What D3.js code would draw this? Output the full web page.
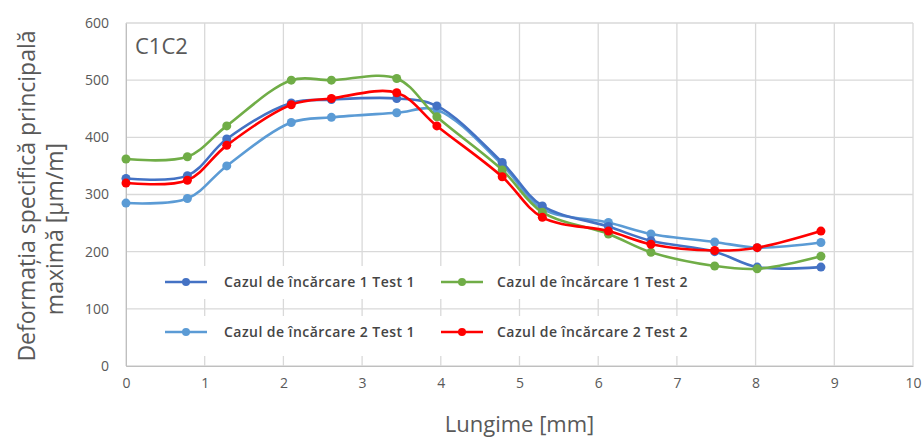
<!DOCTYPE html>
<html>
<head>
<meta charset="utf-8">
<script src="https://cdn.jsdelivr.net/npm/d3@7"></script>
<style>
  body { margin: 0; background: #fff; }
  svg { display: block; }
</style>
</head>
<body>
<div id="chart"></div>
<script>
// chart size
const width = 924;
const height = 437;
const margin = {top: 23, right: 11, bottom: 71, left: 126};

///
/// DATA
///

const lungime = [0, 0.78, 1.28, 2.1, 2.61, 3.44, 3.95, 4.78, 5.29, 6.13, 6.67, 7.48, 8.02, 8.83];
const caz1Test1 = [328, 333, 397, 460, 466, 468, 455, 356, 280, 244, 219, 200, 173, 173];
const caz1Test2 = [362, 366, 420, 500, 500, 503, 436, 343, 269, 231, 199, 175, 170, 192];
const caz2Test1 = [285, 293, 350, 426, 435, 443, 448, 352, 275, 251, 231, 217, 207, 216];
const caz2Test2 = [320, 325, 386, 457, 468, 478, 420, 331, 260, 236, 213, 202, 207, 236];
const seriesNames = ['Cazul de încărcare 1 Test 1', 'Cazul de încărcare 1 Test 2',
                     'Cazul de încărcare 2 Test 1', 'Cazul de încărcare 2 Test 2'];
const xTicks = [0, 1, 2, 3, 4, 5, 6, 7, 8, 9, 10];
const yTicks = [0, 100, 200, 300, 400, 500, 600];

const colors = ['#4472c4', '#70ad47', '#5b9bd5', '#ff0000'];
const allValues = [caz1Test1, caz1Test2, caz2Test1, caz2Test2];

const series = seriesNames.map((name, i) => ({
    name: name,
    color: colors[i],
    values: lungime.map((x, j) => ({x: x, y: allValues[i][j]}))
}));

///
/// SCALES
///

const x = d3.scaleLinear()
    .domain([0, 10])
    .range([margin.left, width - margin.right]);

const y = d3.scaleLinear()
    .domain([0, 600])
    .range([height - margin.bottom, margin.top]);

const svg = d3.select("#chart")
    .append("svg")
    .attr("width", width)
    .attr("height", height)
    .attr("font-family", "'Open Sans', sans-serif");

// gridlines
svg.append("g")
    .attr("class", "grid-x")
    .selectAll("line")
    .data(xTicks)
    .join("line")
    .attr("x1", d => x(d)).attr("x2", d => x(d))
    .attr("y1", y(0)).attr("y2", y(600))
    .attr("stroke", "#d9d9d9")
    .attr("stroke-width", 1.3);

svg.append("g")
    .attr("class", "grid-y")
    .selectAll("line")
    .data(yTicks)
    .join("line")
    .attr("x1", x(0)).attr("x2", x(10))
    .attr("y1", d => y(d)).attr("y2", d => y(d))
    .attr("stroke", "#d9d9d9")
    .attr("stroke-width", 1.3);

// axes (labels only, lines come from the grid)
const xAxis = svg.append("g")
    .attr("transform", `translate(0, ${y(0)})`)
    .call(d3.axisBottom(x).tickValues(xTicks).tickSize(0).tickPadding(12));
xAxis.select(".domain").attr("stroke", "#bfbfbf");
xAxis.selectAll("text")
    .attr("font-size", 14)
    .attr("font-family", "'Open Sans', sans-serif")
    .attr("fill", "#595959");

const yAxis = svg.append("g")
    .attr("transform", `translate(${x(0)}, 0)`)
    .call(d3.axisLeft(y).tickValues(yTicks).tickSize(0).tickPadding(17));
yAxis.select(".domain").attr("stroke", "#bfbfbf");
yAxis.selectAll("text")
    .attr("font-size", 14)
    .attr("font-family", "'Open Sans', sans-serif")
    .attr("fill", "#595959");

///
/// LEGEND BACKGROUND (sits over the grid)
///

const legendRows = [282, 332];
svg.append("g")
    .selectAll("rect")
    .data(legendRows)
    .join("rect")
    .attr("x", 160)
    .attr("y", d => d - 16)
    .attr("width", 542)
    .attr("height", (d, i) => i == 0 ? 33 : 40)
    .attr("fill", "#fff");

///
/// LINES
///

const line = d3.line()
    .x(d => x(d.x))
    .y(d => y(d.y))
    .curve(d3.curveCatmullRom.alpha(0.5));

// draw order: light blue under dark blue
const drawOrder = [2, 0, 1, 3];

const seriesG = svg.append("g")
    .selectAll("g")
    .data(drawOrder.map(i => series[i]))
    .join("g");

seriesG.append("path")
    .attr("d", d => line(d.values))
    .attr("fill", "none")
    .attr("stroke", d => d.color)
    .attr("stroke-width", 2.6)
    .attr("stroke-linejoin", "round");

seriesG.selectAll("circle")
    .data(d => d.values.map(v => ({...v, color: d.color})))
    .join("circle")
    .attr("cx", d => x(d.x))
    .attr("cy", d => y(d.y))
    .attr("r", 4.5)
    .attr("fill", d => d.color);

///
/// LEGEND
///

const legendX = [165, 441];
const legend = svg.append("g")
    .selectAll("g")
    .data(series)
    .join("g")
    .attr("transform", (d, i) => `translate(${legendX[i % 2]}, ${legendRows[Math.floor(i / 2)]})`);

legend.append("line")
    .attr("x1", 0).attr("x2", 42)
    .attr("stroke", d => d.color)
    .attr("stroke-width", 2.6);

legend.append("circle")
    .attr("cx", 21)
    .attr("r", 4)
    .attr("fill", d => d.color);

legend.append("text")
    .attr("x", (d, i) => i % 2 == 0 ? 59 : 56)
    .attr("dy", "0.35em")
    .attr("font-size", 14)
    .attr("font-weight", 600)
    .attr("letter-spacing", 0.45)
    .attr("fill", "#454545")
    .text(d => d.name);

///
/// TITLES
///

svg.append("text")
    .attr("x", 135)
    .attr("y", 54)
    .attr("font-size", 22)
    .attr("fill", "#595959")
    .text("C1C2");

svg.append("text")
    .attr("x", (x(0) + x(10)) / 2)
    .attr("y", 432)
    .attr("text-anchor", "middle")
    .attr("font-size", 22)
    .attr("fill", "#595959")
    .text("Lungime [mm]");

svg.append("text")
    .attr("transform", "translate(35, 196) rotate(-90)")
    .attr("text-anchor", "middle")
    .attr("font-size", 23)
    .attr("fill", "#595959")
    .text("Deformația specifică principală");

svg.append("text")
    .attr("transform", "translate(63, 229) rotate(-90)")
    .attr("text-anchor", "middle")
    .attr("font-size", 23)
    .attr("fill", "#595959")
    .text("maximă [μm/m]");
</script>
</body>
</html>
